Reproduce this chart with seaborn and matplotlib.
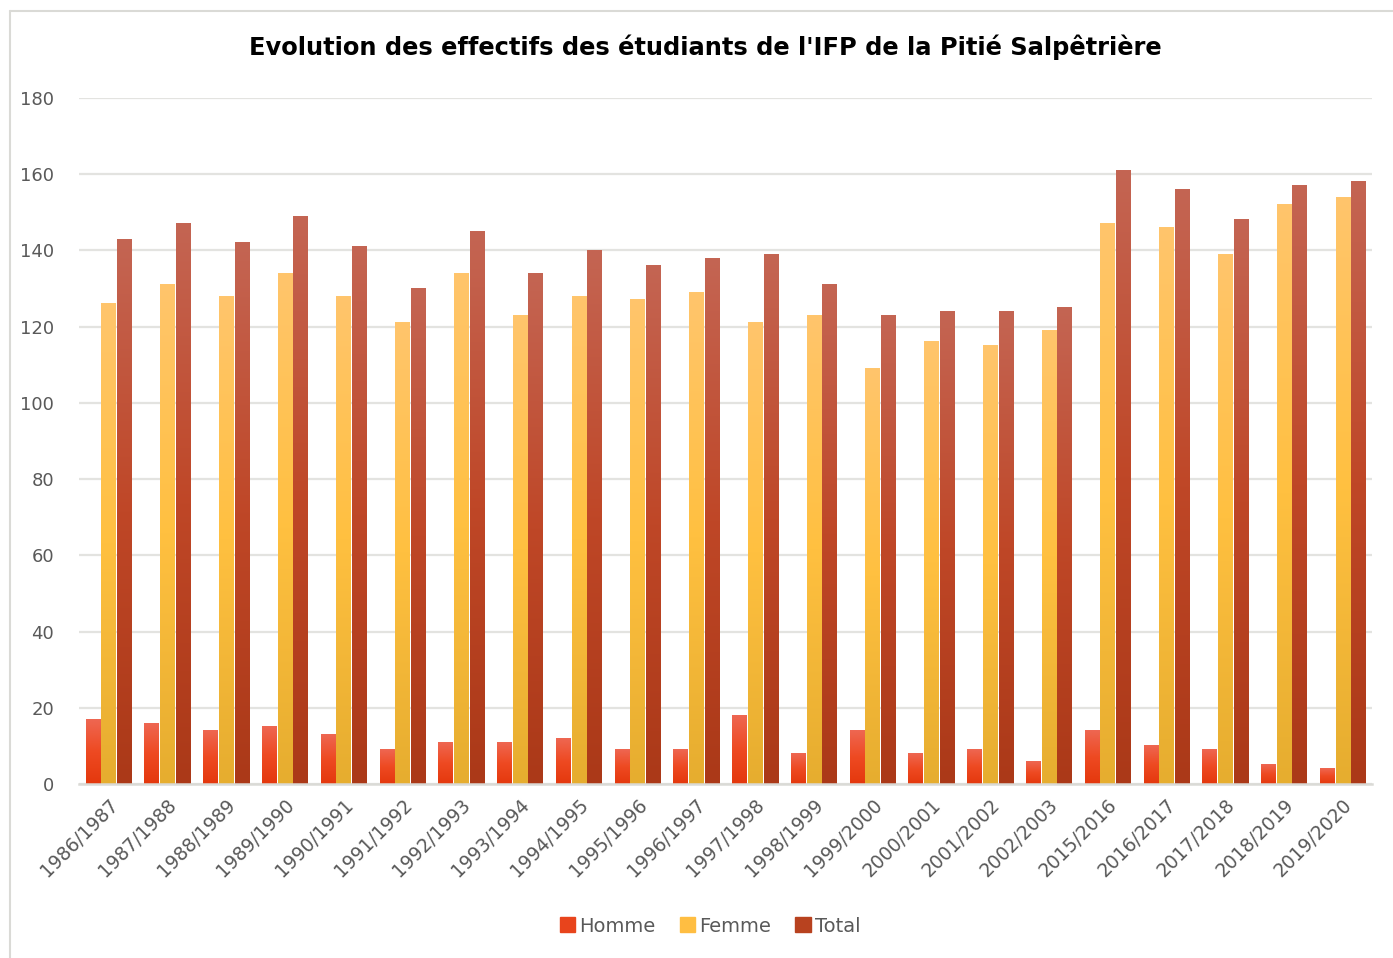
import numpy as np
import pandas as pd
import matplotlib
matplotlib.use("Agg")
import matplotlib.pyplot as plt
from matplotlib.colors import LinearSegmentedColormap
from matplotlib.patches import Rectangle
from matplotlib.lines import Line2D
import seaborn as sns

# data
annees = ["1986/1987", "1987/1988", "1988/1989", "1989/1990", "1990/1991",
          "1991/1992", "1992/1993", "1993/1994", "1994/1995", "1995/1996",
          "1996/1997", "1997/1998", "1998/1999", "1999/2000", "2000/2001",
          "2001/2002", "2002/2003", "2015/2016", "2016/2017", "2017/2018",
          "2018/2019", "2019/2020"]
homme = [17, 16, 14, 15, 13, 9, 11, 11, 12, 9, 9, 18, 8, 14, 8, 9, 6, 14, 10, 9, 5, 4]
femme = [126, 131, 128, 134, 128, 121, 134, 123, 128, 127, 129, 121, 123, 109,
         116, 115, 119, 147, 146, 139, 152, 154]
total = [143, 147, 142, 149, 141, 130, 145, 134, 140, 136, 138, 139, 131, 123,
         124, 124, 125, 161, 156, 148, 157, 158]
series = ["Homme", "Femme", "Total"]
y_ticks = [0, 20, 40, 60, 80, 100, 120, 140, 160, 180]

titre = "Evolution des effectifs des étudiants de l'IFP de la Pitié Salpêtrière"

# solid colours (legend) and gradient stops top -> bottom for each series
solid = {"Homme": "#E8441C", "Femme": "#FFBE42", "Total": "#B8421F"}
grads = {
    "Homme": ["#EE6752", "#EE4A22", "#E4380D"],
    "Femme": ["#FFC56C", "#FFC040", "#E6AD2F"],
    "Total": ["#C46553", "#BF4727", "#AB3918"],
}

df = pd.DataFrame({
    "annee": annees * 3,
    "sexe": ["Homme"] * len(annees) + ["Femme"] * len(annees) + ["Total"] * len(annees),
    "effectif": homme + femme + total,
})

sns.set_theme(style="whitegrid")
plt.rcParams["font.family"] = ["DejaVu Sans"]

W, H = 1393, 958
fig = plt.figure(figsize=(W / 100, H / 100), dpi=100)
ax = fig.add_axes([79 / W, 1 - 784 / H, (1372 - 79) / W, (784 - 98) / H])

sns.barplot(data=df, x="annee", y="effectif", hue="sexe", hue_order=series,
            palette=solid, width=0.8, gap=0.1, ax=ax, saturation=1,
            linewidth=0, legend=True)

# gradient fill inside each bar
grad_img = np.linspace(0, 1, 256).reshape(-1, 1)
for name, cont in zip(series, ax.containers):
    cmap = LinearSegmentedColormap.from_list(name, grads[name])
    for bar in cont:
        x0, w, h = bar.get_x(), bar.get_width(), bar.get_height()
        ax.imshow(grad_img, cmap=cmap, extent=[x0, x0 + w, 0, h], origin="upper",
                  aspect="auto", interpolation="bilinear", zorder=3)
        bar.set_facecolor("none")

ax.set_xlim(-0.5, len(annees) - 0.5)
ax.set_ylim(0, 180)
ax.set_yticks(y_ticks)
ax.set_xlabel("")
ax.set_ylabel("")

ax.grid(axis="y", color="#E3E3E0", linewidth=1.6)
ax.grid(axis="x", visible=False)
ax.set_axisbelow(True)
for s in ["top", "right", "left"]:
    ax.spines[s].set_visible(False)
ax.spines["bottom"].set_color("#DADAD6")
ax.spines["bottom"].set_linewidth(1.8)
ax.spines["bottom"].set_zorder(4)

ax.tick_params(axis="y", length=0, pad=18, labelsize=13, labelcolor="#595959")
ax.tick_params(axis="x", length=0, pad=8, labelsize=13.5, labelcolor="#595959")
for lab in ax.get_xticklabels():
    lab.set_rotation(45)
    lab.set_ha("right")
    lab.set_va("top")
    lab.set_rotation_mode("anchor")

# legend at the bottom
handles = [Rectangle((0, 0), 1, 1, color=solid[s]) for s in series]
ax.legend(handles, series, loc="center", bbox_to_anchor=(710 / W, 1 - 926 / H),
          bbox_transform=fig.transFigure, ncol=3, frameon=False,
          handlelength=0.8, handleheight=0.8, handletextpad=0.2,
          columnspacing=1.25, fontsize=14, labelcolor="#595959")

fig.text(705 / W, 1 - 47 / H, titre, ha="center", va="center",
         fontsize=17.4, fontweight="bold", color="black")

# chart border (only left and top visible in the crop)
fig.add_artist(Line2D([9.5 / W, 9.5 / W], [0, 1 - 11 / H], transform=fig.transFigure,
                      color="#DADAD6", linewidth=1.5))
fig.add_artist(Line2D([9.5 / W, 1], [1 - 11 / H, 1 - 11 / H], transform=fig.transFigure,
                      color="#DADAD6", linewidth=1.5))

fig.savefig("out.png", dpi=100)
